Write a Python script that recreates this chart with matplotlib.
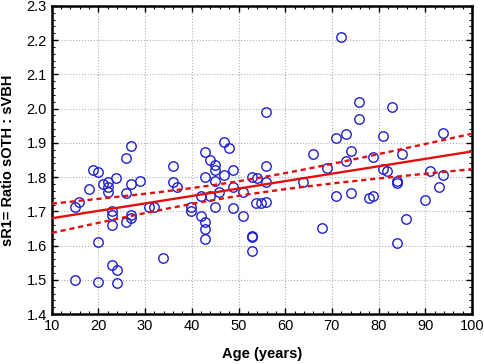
import matplotlib
matplotlib.use("Agg")
import matplotlib.pyplot as plt
import numpy as np
from matplotlib.ticker import MultipleLocator

plt.rcParams['font.family'] = ['Liberation Sans', 'DejaVu Sans']

# values
age = [14.9, 14.9, 15.8, 17.9, 18.8, 19.9, 19.9, 19.9, 20.9, 22, 22, 22,
       22.9, 22.9, 22.9, 22.9, 23.8, 23.9, 23.9, 25.9, 25.9, 25.9, 26.9, 26.9,
       26.9, 26.9, 28.9, 30.9, 31.9, 33.8, 35.9, 35.9, 36.8, 39.8, 39.8, 41.9,
       41.9, 42.8, 42.8, 42.8, 42.8, 42.8, 43.9, 43.9, 44.9, 44.9, 44.9, 44.9,
       45.8, 46.9, 46.9, 47.9, 48.8, 48.8, 48.8, 50.9, 50.9, 52.9, 52.9, 52.9,
       52.9, 53.9, 53.7, 54.8, 55.9, 55.9, 55.9, 55.9, 63.8, 65.9, 67.9, 68.9,
       70.9, 70.9, 72, 73, 73, 74, 74, 75.8, 75.8, 77.9, 78.8, 78.8,
       80.9, 80.9, 81.8, 82.9, 83.9, 83.9, 83.9, 85, 85.9, 89.9, 91, 92.9,
       93.8, 93.8]
ratio = [1.50, 1.713, 1.727, 1.765, 1.822, 1.815, 1.611, 1.494, 1.78, 1.786, 1.771, 1.757,
         1.70, 1.69, 1.66, 1.543, 1.796, 1.529, 1.49, 1.856, 1.754, 1.668, 1.89, 1.78,
         1.689, 1.682, 1.788, 1.713, 1.713, 1.564, 1.832, 1.786, 1.772, 1.713, 1.70, 1.745,
         1.687, 1.874, 1.80, 1.668, 1.648, 1.619, 1.85, 1.746, 1.834, 1.82, 1.789, 1.713,
         1.757, 1.902, 1.806, 1.884, 1.82, 1.771, 1.71, 1.757, 1.687, 1.80, 1.628, 1.624,
         1.584, 1.797, 1.724, 1.724, 1.99, 1.831, 1.786, 1.727, 1.786, 1.868, 1.651, 1.828,
         1.914, 1.745, 2.21, 1.926, 1.846, 1.875, 1.753, 2.02, 1.97, 1.74, 1.86, 1.745,
         1.92, 1.824, 1.817, 2.005, 1.79, 1.784, 1.608, 1.867, 1.678, 1.733, 1.818, 1.771,
         1.93, 1.806]

x = np.array(age)
y = np.array(ratio)

# linear fit with 95% confidence band of the mean
n = len(x)
b, a = np.polyfit(x, y, 1)
resid = y - (a + b * x)
s = np.sqrt(np.sum(resid ** 2) / (n - 2))
xs = np.linspace(10, 100, 200)
ys = a + b * xs
se = s * np.sqrt(1.0 / n + (xs - x.mean()) ** 2 / np.sum((x - x.mean()) ** 2))
t = 1.985

fig = plt.figure(figsize=(4.84, 3.64), dpi=100)
ax = fig.add_axes([0.107, 0.137, 0.868, 0.847])

ax.plot(x, y, 'o', markerfacecolor='none', markeredgecolor='#1f1fd0',
        markersize=6.8, markeredgewidth=1.0, zorder=3)
ax.plot(xs, ys, color='#e01010', linewidth=1.7, zorder=4)
ax.plot(xs, ys + t * se, color='#e01010', linewidth=1.7, dashes=(2.2, 1.6), zorder=4)
ax.plot(xs, ys - t * se, color='#e01010', linewidth=1.7, dashes=(2.2, 1.6), zorder=4)

ax.set_xlim(10, 100)
ax.set_ylim(1.4, 2.3)
ax.xaxis.set_major_locator(MultipleLocator(10))
ax.xaxis.set_minor_locator(MultipleLocator(2))
ax.yaxis.set_major_locator(MultipleLocator(0.1))
ax.yaxis.set_minor_locator(MultipleLocator(0.02))
ax.tick_params(which='both', direction='in', top=True, right=True, labelsize=10.5)
ax.tick_params(which='major', length=4, width=1)
ax.tick_params(which='minor', length=2, width=0.8)
ax.grid(True, which='major', color='#b0b0b0', linestyle=':', linewidth=0.8)
for sp in ax.spines.values():
    sp.set_linewidth(1.8)

ax.set_xlabel('Age (years)', fontweight='bold', fontsize=10.5, labelpad=10)
ax.set_ylabel('sR1= Ratio sOTH : sVBH', fontweight='bold', fontsize=10.5, labelpad=8)

fig.savefig('out.png', dpi=100)
